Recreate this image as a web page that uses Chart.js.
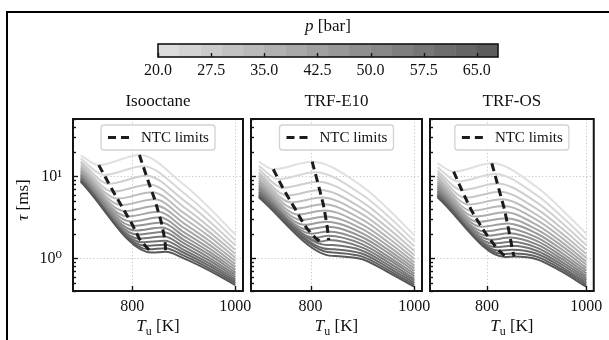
<!DOCTYPE html>
<html>
<head>
<meta charset="utf-8">
<script src="https://cdn.jsdelivr.net/npm/chart.js@4.4.1/dist/chart.umd.min.js"></script>
<style>
html,body{margin:0;padding:0;background:#fff;}
body{width:609px;height:340px;position:relative;overflow:hidden;}
canvas{position:absolute;left:0;top:0;}
#frame{position:absolute;left:6px;top:11px;width:700px;height:400px;border-left:2px solid #000;border-top:2px solid #000;}
</style>
</head>
<body>
<div id="frame"></div>
<canvas id="cb" width="609" height="340"></canvas>
<canvas id="p1" width="609" height="340"></canvas>
<canvas id="p2" width="609" height="340"></canvas>
<canvas id="p3" width="609" height="340"></canvas>
<script>
// ---------------- data ----------------
const pressures = [20, 23, 26, 29, 32, 35, 38, 41, 44, 47, 50, 53, 56, 59, 62, 65, 68];
const tempsFixed = [700, 900, 950, 1000];
const xTickValues = [800, 1000];
const yMajorValues = [1, 10];
const yTickValues = [0.4, 0.5, 0.6, 0.7, 0.8, 0.9, 1, 2, 3, 4, 5, 6, 7, 8, 9, 10, 20, 30, 40, 50];
const cbTickValues = [20, 27.5, 35, 42.5, 50, 57.5, 65];
const panelTitles = ['Isooctane', 'TRF-E10', 'TRF-OS'];

// Isooctane
const isoTau700  = [18.0, 16.5, 15.3, 14.4, 13.5, 12.8, 12.2, 11.7, 11.2, 10.7, 10.35, 10.0, 9.67, 9.36, 9.08, 8.83, 8.59];
const isoTmin    = [735, 745.5, 754.7, 763.3, 771.1, 778.2, 784.9, 791.0, 796.8, 801.6, 805.9, 809.8, 813.6, 819.0, 825.4, 831.4, 837];
const isoTauMin  = [13.7, 10.4, 8.11, 6.50, 5.35, 4.47, 3.78, 3.25, 2.82, 2.48, 2.18, 1.95, 1.74, 1.57, 1.42, 1.29, 1.18];
const isoTmax    = [814, 821.1, 827.4, 833.3, 838.6, 843.5, 847.3, 850.6, 853.7, 856.6, 858.7, 860.4, 862.1, 863.6, 864.1, 864.5, 865];
const isoTauMax  = [18.2, 13.3, 10.2, 7.96, 6.41, 5.25, 4.37, 3.69, 3.16, 2.73, 2.37, 2.09, 1.85, 1.64, 1.47, 1.33, 1.20];
const isoTau900  = [7.94, 6.27, 5.09, 4.23, 3.58, 3.08, 2.68, 2.36, 2.09, 1.87, 1.68, 1.53, 1.39, 1.27, 1.17, 1.08, 1.00];
const isoTau950  = [4.10, 3.36, 2.82, 2.40, 2.09, 1.84, 1.63, 1.46, 1.32, 1.20, 1.10, 1.01, 0.936, 0.869, 0.807, 0.755, 0.708];
const isoTau1000 = [1.95, 1.66, 1.44, 1.27, 1.13, 1.02, 0.927, 0.848, 0.782, 0.724, 0.674, 0.631, 0.592, 0.556, 0.525, 0.498, 0.472];
const isoNtcCount = 17;

// TRF-E10
const e10Tau700  = [15.1, 13.4, 12.2, 11.1, 10.3, 9.55, 8.91, 8.38, 7.91, 7.50, 7.13, 6.81, 6.50, 6.22, 5.98, 5.75, 5.55];
const e10Tmin    = [728, 737.8, 746.2, 754.8, 762.8, 769.9, 776.4, 782.4, 787.7, 794.5, 801.9, 808.9, 819, 822, 824, 826, 828];
const e10TauMin  = [12.2, 9.23, 7.26, 5.83, 4.81, 4.04, 3.42, 2.94, 2.57, 2.25, 2.00, 1.78, 1.60, 1.48, 1.33, 1.22, 1.11];
const e10Tmax    = [803, 808.5, 813.4, 817.6, 821.2, 824.5, 826.9, 828.7, 830.4, 832, 833.1, 834.1, 835, 842, 846, 850, 855];
const e10TauMax  = [15.1, 11.2, 8.61, 6.81, 5.52, 4.56, 3.82, 3.24, 2.80, 2.43, 2.12, 1.88, 1.67, 1.45, 1.29, 1.17, 1.06];
const e10Tau900  = [7.50, 5.94, 4.85, 4.04, 3.43, 2.96, 2.57, 2.27, 2.02, 1.81, 1.63, 1.48, 1.35, 1.24, 1.14, 1.05, 0.977];
const e10Tau950  = [3.98, 3.25, 2.72, 2.32, 2.01, 1.77, 1.57, 1.41, 1.27, 1.16, 1.05, 0.970, 0.895, 0.830, 0.773, 0.721, 0.676];
const e10Tau1000 = [1.92, 1.63, 1.41, 1.24, 1.10, 0.991, 0.898, 0.820, 0.755, 0.698, 0.649, 0.607, 0.568, 0.533, 0.502, 0.475, 0.451];
const e10NtcCount = 13;

// TRF-OS
const osTau700  = [14.4, 12.9, 11.7, 10.8, 9.98, 9.31, 8.73, 8.22, 7.78, 7.40, 7.05, 6.73, 6.46, 6.19, 5.96, 5.74, 5.55];
const osTmin    = [732.7, 741.4, 749.1, 756.2, 762.9, 769.0, 775.7, 782.4, 788.5, 794.5, 800.6, 806.6, 812.3, 817.9, 824.5, 831.3, 837];
const osTauMin  = [11.4, 8.65, 6.81, 5.50, 4.53, 3.80, 3.23, 2.79, 2.43, 2.13, 1.89, 1.69, 1.52, 1.37, 1.24, 1.13, 1.04];
const osTmax    = [809.6, 815.5, 820.6, 825.3, 829.4, 833.2, 836.3, 838.8, 841.0, 843.0, 845.0, 846.6, 848.2, 849.7, 851.2, 852.9, 854.5];
const osTauMax  = [14.4, 10.7, 8.20, 6.49, 5.26, 4.35, 3.64, 3.09, 2.66, 2.31, 2.02, 1.79, 1.59, 1.42, 1.27, 1.15, 1.05];
const osTau900  = [7.41, 5.89, 4.81, 4.00, 3.40, 2.94, 2.56, 2.25, 2.01, 1.80, 1.63, 1.48, 1.35, 1.24, 1.14, 1.05, 0.977];
const osTau950  = [3.98, 3.26, 2.74, 2.34, 2.03, 1.79, 1.59, 1.43, 1.29, 1.17, 1.07, 0.989, 0.914, 0.848, 0.789, 0.738, 0.692];
const osTau1000 = [2.00, 1.68, 1.45, 1.27, 1.13, 1.01, 0.914, 0.834, 0.766, 0.706, 0.655, 0.611, 0.571, 0.536, 0.504, 0.476, 0.451];
const osNtcCount = 17;

// ---------------- styling helpers ----------------
const SERIF = "'Liberation Serif','Times New Roman','DejaVu Serif',serif";
const TXT = '#111';
function grey(p) {
  const p0 = pressures[0], p1 = pressures[pressures.length - 1];
  const v = Math.round(224 - (p - p0) / (p1 - p0) * 136);
  return 'rgb(' + v + ',' + v + ',' + v + ')';
}
function richText(ctx, segs, x, y, size, rot) {
  ctx.save();
  ctx.translate(x, y);
  if (rot) ctx.rotate(rot);
  ctx.textBaseline = 'middle';
  ctx.textAlign = 'left';
  ctx.fillStyle = TXT;
  const fonts = segs.map(s => (s.i ? 'italic ' : '') + Math.round(size * (s.s || 1)) + 'px ' + SERIF);
  const widths = segs.map((s, k) => { ctx.font = fonts[k]; return ctx.measureText(s.t).width; });
  let cx = -widths.reduce((a, b) => a + b, 0) / 2;
  segs.forEach((s, k) => { ctx.font = fonts[k]; ctx.fillText(s.t, cx, (s.dy || 0) * size); cx += widths[k]; });
  ctx.restore();
}

const deco = {
  id: 'deco',
  beforeDatasetsDraw(chart, _a, o) {
    if (!o.grid) return;
    const ctx = chart.ctx, a = chart.chartArea, sx = chart.scales.x, sy = chart.scales.y;
    ctx.save();
    ctx.strokeStyle = '#c6c6c6';
    ctx.lineWidth = 1;
    ctx.setLineDash([1.2, 2.2]);
    xTickValues.forEach(v => {
      const px = Math.round(sx.getPixelForValue(v)) + 0.5;
      ctx.beginPath(); ctx.moveTo(px, a.top); ctx.lineTo(px, a.bottom); ctx.stroke();
    });
    yMajorValues.forEach(v => {
      const py = Math.round(sy.getPixelForValue(v)) + 0.5;
      ctx.beginPath(); ctx.moveTo(a.left, py); ctx.lineTo(a.right, py); ctx.stroke();
    });
    ctx.restore();
  },
  afterDatasetsDraw(chart, _a, o) {
    const ctx = chart.ctx, a = chart.chartArea;
    ctx.save();
    ctx.setLineDash([]);
    ctx.strokeStyle = '#141414';
    ctx.lineWidth = 1.4;
    if (o.xTicks) {
      const sx = chart.scales.x;
      sx.ticks.forEach(t => {
        const px = Math.round(sx.getPixelForValue(t.value)) + 0.5;
        ctx.beginPath(); ctx.moveTo(px, a.bottom); ctx.lineTo(px, a.bottom - o.xTicks); ctx.stroke();
      });
    }
    if (o.yTicks) {
      const sy = chart.scales.y;
      sy.ticks.forEach(t => {
        const py = Math.round(sy.getPixelForValue(t.value)) + 0.5;
        const len = yMajorValues.includes(t.value) ? o.yTicks[0] : o.yTicks[1];
        ctx.beginPath(); ctx.moveTo(a.left, py); ctx.lineTo(a.left + len, py); ctx.stroke();
      });
    }
    ctx.lineWidth = o.frameWidth || 2;
    ctx.strokeStyle = '#141414';
    ctx.strokeRect(a.left, a.top, a.right - a.left, a.bottom - a.top);
    if (o.legend) {
      const L = o.legend;
      const cx = (a.left + a.right) / 2;
      const bx = cx - L.w / 2, by = a.top + L.dy;
      ctx.fillStyle = 'rgba(255,255,255,0.85)';
      ctx.strokeStyle = '#d2d2d2';
      ctx.lineWidth = 1.3;
      ctx.beginPath();
      if (ctx.roundRect) ctx.roundRect(bx, by, L.w, L.h, 3); else ctx.rect(bx, by, L.w, L.h);
      ctx.fill(); ctx.stroke();
      const ds = chart.data.datasets[chart.data.datasets.length - 1];
      ctx.strokeStyle = ds.borderColor;
      ctx.lineWidth = ds.borderWidth;
      ctx.setLineDash(ds.borderDash);
      ctx.beginPath(); ctx.moveTo(bx + 7, by + L.h / 2); ctx.lineTo(bx + 32, by + L.h / 2); ctx.stroke();
      ctx.setLineDash([]);
      ctx.fillStyle = TXT;
      ctx.font = '15px ' + SERIF;
      ctx.textBaseline = 'middle';
      ctx.textAlign = 'left';
      ctx.fillText(ds.label, bx + 40, by + L.h / 2 + 1);
    }
    (o.rich || []).forEach(r => {
      const x = r.x === 'center' ? (a.left + a.right) / 2 : r.x;
      richText(ctx, r.segs, x, r.y, r.size, r.rot);
    });
    ctx.restore();
  }
};

// ---------------- colorbar ----------------
const bands = pressures.slice(0, -1).map((p, i) => [p, pressures[i + 1]]);
new Chart(document.getElementById('cb'), {
  type: 'bar',
  data: {
    labels: [''],
    datasets: bands.map(b => ({
      data: [b],
      backgroundColor: grey((b[0] + b[1]) / 2),
      borderColor: grey((b[0] + b[1]) / 2),
      borderWidth: 0.6,
      borderSkipped: false,
      barPercentage: 1,
      categoryPercentage: 1,
      grouped: false
    }))
  },
  options: {
    indexAxis: 'y',
    responsive: false,
    animation: false,
    devicePixelRatio: 1,
    layout: { padding: { left: 158, right: 111, top: 44, bottom: 253 } },
    plugins: {
      legend: { display: false },
      tooltip: { enabled: false },
      deco: {
        xTicks: 4,
        frameWidth: 1.6,
        rich: [{ x: 'center', y: 27, size: 17, segs: [{ t: 'p', i: true }, { t: ' [bar]' }] }]
      }
    },
    scales: {
      x: {
        type: 'linear', min: 20, max: 68,
        grid: { display: false, drawTicks: false }, border: { display: false },
        afterBuildTicks: s => { s.ticks = cbTickValues.map(v => ({ value: v })); },
        ticks: { font: { family: SERIF, size: 16 }, color: TXT, padding: 4, maxRotation: 0, autoSkip: false,
                 callback: v => Number(v).toFixed(1) },
        afterFit: s => { s.height = 30; }
      },
      y: { display: false }
    }
  },
  plugins: [deco]
});

// ---------------- panels ----------------
const panels = [
  { id: 'p1', title: panelTitles[0], left: 0, right: 366, showY: true,
    tau700: isoTau700, tA: isoTmin, tauA: isoTauMin, tB: isoTmax, tauB: isoTauMax,
    tau900: isoTau900, tau950: isoTau950, tau1000: isoTau1000, ntc: isoNtcCount },
  { id: 'p2', title: panelTitles[1], left: 251, right: 187, showY: false,
    tau700: e10Tau700, tA: e10Tmin, tauA: e10TauMin, tB: e10Tmax, tauB: e10TauMax,
    tau900: e10Tau900, tau950: e10Tau950, tau1000: e10Tau1000, ntc: e10NtcCount },
  { id: 'p3', title: panelTitles[2], left: 430, right: 9, showY: false,
    tau700: osTau700, tA: osTmin, tauA: osTauMin, tB: osTmax, tauB: osTauMax,
    tau900: osTau900, tau950: osTau950, tau1000: osTau1000, ntc: osNtcCount }
];

panels.forEach(P => {
  const datasets = pressures.map((p, i) => ({
    label: 'p = ' + p + ' bar',
    data: [
      { x: tempsFixed[0], y: P.tau700[i] },
      { x: P.tA[i], y: P.tauA[i] },
      { x: P.tB[i], y: P.tauB[i] },
      { x: tempsFixed[1], y: P.tau900[i] },
      { x: tempsFixed[2], y: P.tau950[i] },
      { x: tempsFixed[3], y: P.tau1000[i] }
    ],
    borderColor: grey(p),
    borderWidth: 2,
    pointRadius: 0,
    fill: false,
    cubicInterpolationMode: 'monotone',
    order: pressures.length - i
  }));
  const ntcStyle = { borderColor: '#1c1c1c', borderWidth: 3, borderDash: [8, 5], pointRadius: 0, fill: false, tension: 0, order: 0 };
  datasets.push(Object.assign({ label: 'NTC limits',
    data: P.tA.slice(0, P.ntc).map((t, i) => ({ x: t, y: P.tauA[i] })) }, ntcStyle));
  datasets.push(Object.assign({ label: 'NTC limits',
    data: P.tB.slice(0, P.ntc).map((t, i) => ({ x: t, y: P.tauB[i] })) }, ntcStyle));

  const rich = [{ x: 'center', y: 327, size: 17,
    segs: [{ t: 'T', i: true }, { t: 'u', s: 0.72, dy: 0.28 }, { t: ' [K]' }] }];
  if (P.showY) rich.push({ x: 24, y: 200, size: 17, rot: -Math.PI / 2,
    segs: [{ t: 'τ', i: true }, { t: ' [ms]' }] });

  new Chart(document.getElementById(P.id), {
    type: 'line',
    data: { datasets },
    options: {
      responsive: false,
      animation: false,
      devicePixelRatio: 1,
      layout: { padding: { left: P.left, right: P.right, top: 85, bottom: 0 } },
      plugins: {
        legend: { display: false },
        tooltip: { enabled: false },
        title: { display: true, text: P.title, fullSize: false, color: TXT,
                 font: { family: SERIF, size: 17, weight: 'normal', lineHeight: 1 },
                 padding: { top: 8, bottom: 9 } },
        deco: { grid: true, xTicks: 5, yTicks: [5, 3], frameWidth: 2,
                legend: { w: 114, h: 25, dy: 6 }, rich }
      },
      scales: {
        x: {
          type: 'linear', min: 685, max: 1015,
          grid: { display: false, drawTicks: false }, border: { display: false },
          afterBuildTicks: s => { s.ticks = xTickValues.map(v => ({ value: v })); },
          ticks: { font: { family: SERIF, size: 16 }, color: TXT, padding: 6, maxRotation: 0, autoSkip: false,
                   callback: v => String(v) },
          afterFit: s => { s.height = 49; }
        },
        y: {
          type: 'logarithmic', min: 0.4, max: 50,
          grid: { display: false, drawTicks: false }, border: { display: false },
          afterBuildTicks: s => { s.ticks = yTickValues.map(v => ({ value: v })); },
          ticks: { display: P.showY, font: { family: SERIF, size: 16 }, color: TXT, padding: 11, autoSkip: false,
                   callback: v => (v === 1 ? '10\u2070' : (v === 10 ? '10\u00B9' : '')) },
          afterFit: s => { s.width = P.showY ? 73 : 0; }
        }
      }
    },
    plugins: [deco]
  });
});
</script>
</body>
</html>
